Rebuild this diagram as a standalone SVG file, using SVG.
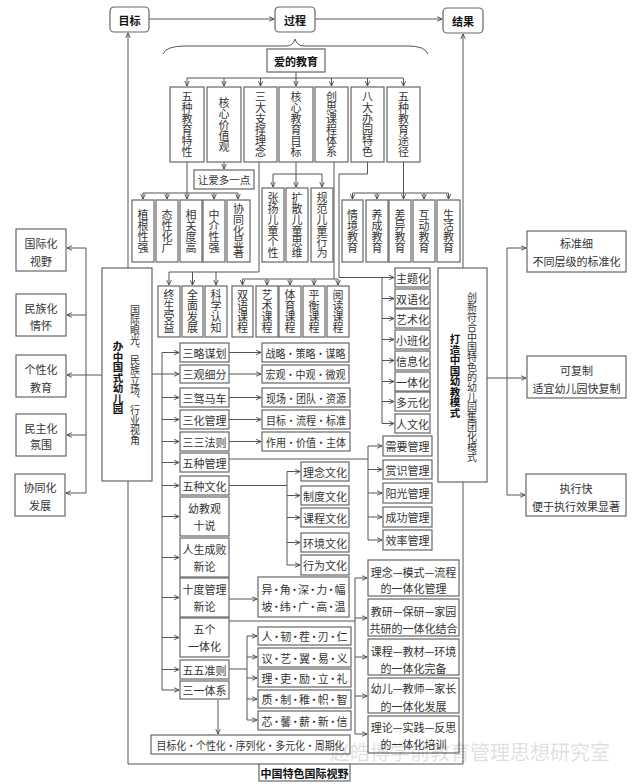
<svg xmlns="http://www.w3.org/2000/svg" width="640" height="784" viewBox="0 0 640 784">
<style>
text{font-family:"Noto Sans CJK SC","Noto Sans",sans-serif;fill:#333;font-size:11px;text-anchor:middle;dominant-baseline:central}
.b{font-weight:bold;fill:#111}
.v{writing-mode:vertical-rl}
.s{font-size:10px}
rect{fill:#fff;stroke:#666;stroke-width:1.2}
#connectors path{fill:none;stroke:#555;stroke-width:1}
.wm{font-size:20px;fill:#000;opacity:0.12;text-anchor:start}
</style>
<defs>
<marker id="a" viewBox="0 0 8 8" refX="7.5" refY="4" markerWidth="6" markerHeight="6" orient="auto" markerUnits="userSpaceOnUse"><path d="M1,1 L7.5,4 L1,7" fill="none" stroke="#444" stroke-width="1.2"/></marker>
</defs>
<rect x="0" y="0" width="640" height="784" style="fill:#fff;stroke:none"/>

<g id="connectors">
<path d="M149,19 H274" marker-end="url(#a)"/>
<path d="M315,19 H442" marker-end="url(#a)"/>
<path d="M128,268 V33" marker-end="url(#a)"/>
<path d="M463,268 V34" marker-end="url(#a)"/>
<path d="M163,54 Q166,46 185,46 H286 Q293,46 295,39 Q297,46 304,46 H408 Q425,46 428,54"/>
<path d="M296,72 V86" marker-end="url(#a)"/>
<path d="M187,78 H403"/>
<path d="M187,78 V86" marker-end="url(#a)"/>
<path d="M224,78 V86" marker-end="url(#a)"/>
<path d="M260.5,78 V86" marker-end="url(#a)"/>
<path d="M331.5,78 V86" marker-end="url(#a)"/>
<path d="M367.5,78 V86" marker-end="url(#a)"/>
<path d="M403.5,78 V86" marker-end="url(#a)"/>
<path d="M224,162 V169" marker-end="url(#a)"/>
<path d="M187,162 V199" marker-end="url(#a)"/>
<path d="M143,193 H238"/>
<path d="M143,193 V199" marker-end="url(#a)"/>
<path d="M167,193 V199" marker-end="url(#a)"/>
<path d="M214,193 V199" marker-end="url(#a)"/>
<path d="M238,193 V199" marker-end="url(#a)"/>
<path d="M296,162 V187" marker-end="url(#a)"/>
<path d="M273,174 H322"/>
<path d="M273,174 V187" marker-end="url(#a)"/>
<path d="M322,174 V187" marker-end="url(#a)"/>
<path d="M259,162 V272 H169"/>
<path d="M169,272 V285" marker-end="url(#a)"/>
<path d="M192.5,272 V285" marker-end="url(#a)"/>
<path d="M216,272 V285" marker-end="url(#a)"/>
<path d="M334,162 V279"/>
<path d="M242.5,279 H338"/>
<path d="M242.5,279 V285" marker-end="url(#a)"/>
<path d="M267,279 V285" marker-end="url(#a)"/>
<path d="M290,279 V285" marker-end="url(#a)"/>
<path d="M314,279 V285" marker-end="url(#a)"/>
<path d="M338,279 V285" marker-end="url(#a)"/>
<path d="M367.5,162 V174 H339 V277.5 H394" marker-end="url(#a)"/>
<path d="M382,277.5 V423.5"/>
<path d="M382,298.5 H394" marker-end="url(#a)"/>
<path d="M382,318.5 H394" marker-end="url(#a)"/>
<path d="M382,339.5 H394" marker-end="url(#a)"/>
<path d="M382,360.5 H394" marker-end="url(#a)"/>
<path d="M382,381.5 H394" marker-end="url(#a)"/>
<path d="M382,401.5 H394" marker-end="url(#a)"/>
<path d="M382,423.5 H394" marker-end="url(#a)"/>
<path d="M403.5,162 V199" marker-end="url(#a)"/>
<path d="M352.5,193 H448.5"/>
<path d="M352.5,193 V199" marker-end="url(#a)"/>
<path d="M377,193 V199" marker-end="url(#a)"/>
<path d="M424,193 V199" marker-end="url(#a)"/>
<path d="M448.5,193 V199" marker-end="url(#a)"/>
<path d="M487,378 H507"/>
<path d="M507,248 V495"/>
<path d="M507,248 H526" marker-end="url(#a)"/>
<path d="M507,378 H526" marker-end="url(#a)"/>
<path d="M507,495 H525" marker-end="url(#a)"/>
<path d="M102,375 H86"/>
<path d="M86,248 V493"/>
<path d="M86,248 H67" marker-end="url(#a)"/>
<path d="M86,315 H67" marker-end="url(#a)"/>
<path d="M86,375 H67" marker-end="url(#a)"/>
<path d="M86,435 H67" marker-end="url(#a)"/>
<path d="M86,493 H66" marker-end="url(#a)"/>
<path d="M152,374 H162"/>
<path d="M162,352.5 V690"/>
<path d="M162,352.5 H179" marker-end="url(#a)"/>
<path d="M162,374 H179" marker-end="url(#a)"/>
<path d="M162,397.5 H179" marker-end="url(#a)"/>
<path d="M162,419.5 H179" marker-end="url(#a)"/>
<path d="M162,441.5 H179" marker-end="url(#a)"/>
<path d="M162,462.5 H179" marker-end="url(#a)"/>
<path d="M162,485.5 H179" marker-end="url(#a)"/>
<path d="M162,516.5 H179" marker-end="url(#a)"/>
<path d="M162,557.5 H179" marker-end="url(#a)"/>
<path d="M162,597.5 H179" marker-end="url(#a)"/>
<path d="M162,637.5 H179" marker-end="url(#a)"/>
<path d="M162,669.5 H179" marker-end="url(#a)"/>
<path d="M162,690 H179" marker-end="url(#a)"/>
<path d="M229,352.5 H261" marker-end="url(#a)"/>
<path d="M229,374 H261" marker-end="url(#a)"/>
<path d="M229,397.5 H261" marker-end="url(#a)"/>
<path d="M229,419.5 H261" marker-end="url(#a)"/>
<path d="M229,441.5 H261" marker-end="url(#a)"/>
<path d="M229,459 H368"/>
<path d="M368,446 V540"/>
<path d="M368,446 H382" marker-end="url(#a)"/>
<path d="M368,469.5 H382" marker-end="url(#a)"/>
<path d="M368,493 H382" marker-end="url(#a)"/>
<path d="M368,517 H382" marker-end="url(#a)"/>
<path d="M368,540 H382" marker-end="url(#a)"/>
<path d="M229,485.5 H287"/>
<path d="M287,471.5 V565"/>
<path d="M287,471.5 H300" marker-end="url(#a)"/>
<path d="M287,495.5 H300" marker-end="url(#a)"/>
<path d="M287,517.5 H300" marker-end="url(#a)"/>
<path d="M287,542.5 H300" marker-end="url(#a)"/>
<path d="M287,565 H300" marker-end="url(#a)"/>
<path d="M229,599 H257" marker-end="url(#a)"/>
<path d="M229,621 H355"/>
<path d="M355,578 V734"/>
<path d="M355,578 H367" marker-end="url(#a)"/>
<path d="M355,618 H367" marker-end="url(#a)"/>
<path d="M355,657 H367" marker-end="url(#a)"/>
<path d="M355,696 H367" marker-end="url(#a)"/>
<path d="M355,734 H367" marker-end="url(#a)"/>
<path d="M229,669 H247"/>
<path d="M247,636 V720"/>
<path d="M247,636 H257" marker-end="url(#a)"/>
<path d="M247,657 H257" marker-end="url(#a)"/>
<path d="M247,678 H257" marker-end="url(#a)"/>
<path d="M247,699 H257" marker-end="url(#a)"/>
<path d="M247,720 H257" marker-end="url(#a)"/>
<path d="M218,700 V734" marker-end="url(#a)"/>
<path d="M128,481 V764 H259"/>
<path d="M463,482 V764 H350"/>
</g>

<g id="n-mubiao"><rect x="110" y="7" width="39" height="25" rx="4"/><text class="b" x="129.5" y="19.5">目标</text></g>
<g id="n-guocheng"><rect x="275" y="7" width="40" height="25" rx="4"/><text class="b" x="295" y="19.5">过程</text></g>
<g id="n-jieguo"><rect x="443" y="8" width="40" height="25" rx="4"/><text class="b" x="463" y="20.5">结果</text></g>
<g id="n-aide"><rect x="267" y="49" width="58" height="23"/><text class="b" x="296" y="60.5">爱的教育</text></g>

<g id="n-t1"><rect x="170" y="87" width="34" height="75"/><text class="v" x="187" y="124.5">五种教育特性</text></g>
<g id="n-t2"><rect x="207" y="87" width="34" height="75"/><text class="v" x="224" y="124.5">核心价值观</text></g>
<g id="n-t3"><rect x="244" y="87" width="33" height="75"/><text class="v" x="260.5" y="124.5">三大支撑理念</text></g>
<g id="n-t4"><rect x="279" y="87" width="34" height="75"/><text class="v" x="296" y="124.5">核心教育目标</text></g>
<g id="n-t5"><rect x="315" y="87" width="33" height="75"/><text class="v" x="331.5" y="124.5">创思课程体系</text></g>
<g id="n-t6"><rect x="351" y="87" width="33" height="75"/><text class="v" x="367.5" y="124.5">八大办园特色</text></g>
<g id="n-t7"><rect x="387" y="87" width="33" height="75"/><text class="v" x="403.5" y="124.5">五种教育途径</text></g>

<g id="n-rangai"><rect x="194" y="170" width="60" height="19"/><text x="224" y="179.5" style="font-size:10.5px">让爱多一点</text></g>

<g id="n-a1"><rect x="132" y="200" width="22" height="62"/><text class="v" x="143" y="231">植根性强</text></g>
<g id="n-a2"><rect x="156" y="200" width="22" height="62"/><text class="v" x="167" y="231">态性化广</text></g>
<g id="n-a3"><rect x="180" y="200" width="22" height="62"/><text class="v" x="191" y="231">相关度高</text></g>
<g id="n-a4"><rect x="203" y="200" width="22" height="62"/><text class="v" x="214" y="231">中介性强</text></g>
<g id="n-a5"><rect x="227" y="200" width="23" height="62"/><text class="v" x="238.5" y="231">协同化显著</text></g>

<g id="n-g1"><rect x="262" y="188" width="22" height="74"/><text class="v" x="273" y="225">张扬儿童个性</text></g>
<g id="n-g2"><rect x="286" y="188" width="22" height="74"/><text class="v" x="297" y="225">扩散儿童思维</text></g>
<g id="n-g3"><rect x="311" y="188" width="22" height="74"/><text class="v" x="322" y="225">规范儿童行为</text></g>

<g id="n-w1"><rect x="342" y="200" width="21" height="62"/><text class="v" x="352.5" y="231">情境教育</text></g>
<g id="n-w2"><rect x="366" y="200" width="22" height="62"/><text class="v" x="377" y="231">养成教育</text></g>
<g id="n-w3"><rect x="389" y="200" width="22" height="62"/><text class="v" x="400" y="231">差异教育</text></g>
<g id="n-w4"><rect x="413" y="200" width="22" height="62"/><text class="v" x="424" y="231">互动教育</text></g>
<g id="n-w5"><rect x="437" y="200" width="23" height="62"/><text class="v" x="448.5" y="231">生活教育</text></g>

<g id="n-c1"><rect x="158" y="286" width="22" height="51"/><text class="v" x="169" y="311.5">终生受益</text></g>
<g id="n-c2"><rect x="182" y="286" width="21" height="51"/><text class="v" x="192.5" y="311.5">全面发展</text></g>
<g id="n-c3"><rect x="205" y="286" width="22" height="51"/><text class="v" x="216" y="311.5">科学认知</text></g>
<g id="n-c4"><rect x="232" y="286" width="21" height="51"/><text class="v" x="242.5" y="311.5">双语课程</text></g>
<g id="n-c5"><rect x="256" y="286" width="22" height="51"/><text class="v" x="267" y="311.5">艺术课程</text></g>
<g id="n-c6"><rect x="279" y="286" width="22" height="51"/><text class="v" x="290" y="311.5">体育课程</text></g>
<g id="n-c7"><rect x="303" y="286" width="22" height="51"/><text class="v" x="314" y="311.5">平衡课程</text></g>
<g id="n-c8"><rect x="327" y="286" width="22" height="51"/><text class="v" x="338" y="311.5">阅读课程</text></g>

<g id="n-h1"><rect x="395" y="268" width="35" height="19"/><text x="412.5" y="277.5">主题化</text></g>
<g id="n-h2"><rect x="395" y="289" width="35" height="19"/><text x="412.5" y="298.5">双语化</text></g>
<g id="n-h3"><rect x="395" y="309" width="35" height="19"/><text x="412.5" y="318.5">艺术化</text></g>
<g id="n-h4"><rect x="395" y="330" width="35" height="19"/><text x="412.5" y="339.5">小班化</text></g>
<g id="n-h5"><rect x="395" y="351" width="35" height="19"/><text x="412.5" y="360.5">信息化</text></g>
<g id="n-h6"><rect x="395" y="372" width="35" height="19"/><text x="412.5" y="381.5">一体化</text></g>
<g id="n-h7"><rect x="395" y="392" width="35" height="19"/><text x="412.5" y="401.5">多元化</text></g>
<g id="n-h8"><rect x="395" y="414" width="35" height="19"/><text x="412.5" y="423.5">人文化</text></g>

<g id="n-left"><rect x="102" y="268" width="50" height="213"/><text class="v b" x="118" y="378" style="font-size:10.5px">办中国式幼儿园</text><text class="v s" x="135" y="375">国际眼光、民族立场、行业视角</text></g>
<g id="n-right"><rect x="438" y="268" width="49" height="214"/><text class="v b" x="455" y="376" style="font-size:10.5px">打造中国幼教模式</text><text class="v s" x="472" y="377">创新符合中国特色的幼儿园集团化模式</text></g>

<g id="n-r1"><rect x="527" y="231" width="99" height="41"/><text x="576.5" y="243">标准细</text><text x="576.5" y="261">不同层级的标准化</text></g>
<g id="n-r2"><rect x="527" y="356" width="99" height="42"/><text x="576.5" y="370">可复制</text><text x="576.5" y="388">适宜幼儿园快复制</text></g>
<g id="n-r3"><rect x="526" y="474" width="100" height="42"/><text x="576" y="488">执行快</text><text x="576" y="506">便于执行效果显著</text></g>

<g id="n-l1"><rect x="16" y="229" width="50" height="42"/><text x="41" y="243">国际化</text><text x="41" y="261">视野</text></g>
<g id="n-l2"><rect x="16" y="294" width="50" height="42"/><text x="41" y="308">民族化</text><text x="41" y="325">情怀</text></g>
<g id="n-l3"><rect x="16" y="355" width="50" height="42"/><text x="41" y="369">个性化</text><text x="41" y="387">教育</text></g>
<g id="n-l4"><rect x="16" y="414" width="50" height="42"/><text x="41" y="428">民主化</text><text x="41" y="444">氛围</text></g>
<g id="n-l5"><rect x="15" y="474" width="50" height="42"/><text x="40" y="487">协同化</text><text x="40" y="505">发展</text></g>

<g id="n-m1"><rect x="180" y="343" width="49" height="19"/><text x="204.5" y="352.5">三略谋划</text></g>
<g id="n-m2"><rect x="180" y="365" width="49" height="18"/><text x="204.5" y="374">三观细分</text></g>
<g id="n-m3"><rect x="180" y="388" width="49" height="19"/><text x="204.5" y="397.5">三驾马车</text></g>
<g id="n-m4"><rect x="180" y="410" width="49" height="19"/><text x="204.5" y="419.5">三化管理</text></g>
<g id="n-m5"><rect x="180" y="432" width="49" height="19"/><text x="204.5" y="441.5">三三法则</text></g>
<g id="n-m6"><rect x="180" y="453" width="49" height="19"/><text x="204.5" y="462.5">五种管理</text></g>
<g id="n-m7"><rect x="180" y="476" width="49" height="19"/><text x="204.5" y="485.5">五种文化</text></g>
<g id="n-m8"><rect x="180" y="497" width="49" height="39"/><text x="204.5" y="508">幼教观</text><text x="204.5" y="525">十说</text></g>
<g id="n-m9"><rect x="180" y="538" width="49" height="39"/><text x="204.5" y="549">人生成败</text><text x="204.5" y="566">新论</text></g>
<g id="n-m10"><rect x="180" y="578" width="49" height="39"/><text x="204.5" y="589">十度管理</text><text x="204.5" y="606">新论</text></g>
<g id="n-m11"><rect x="180" y="618" width="49" height="39"/><text x="204.5" y="629">五个</text><text x="204.5" y="646">一体化</text></g>
<g id="n-m12"><rect x="180" y="660" width="49" height="19"/><text x="204.5" y="669.5">五五准则</text></g>
<g id="n-m13"><rect x="180" y="681" width="49" height="18"/><text x="204.5" y="690">三一体系</text></g>

<g id="n-s1"><rect x="262" y="343" width="87" height="19"/><text x="305.5" y="352.5" textLength="80" lengthAdjust="spacingAndGlyphs">战略·策略·谋略</text></g>
<g id="n-s2"><rect x="262" y="365" width="87" height="18"/><text x="305.5" y="374" textLength="80" lengthAdjust="spacingAndGlyphs">宏观·中观·微观</text></g>
<g id="n-s3"><rect x="262" y="388" width="88" height="19"/><text x="306" y="397.5" textLength="80" lengthAdjust="spacingAndGlyphs">现场·团队·资源</text></g>
<g id="n-s4"><rect x="262" y="410" width="88" height="19"/><text x="306" y="419.5" textLength="80" lengthAdjust="spacingAndGlyphs">目标·流程·标准</text></g>
<g id="n-s5"><rect x="262" y="432" width="88" height="19"/><text x="306" y="441.5" textLength="80" lengthAdjust="spacingAndGlyphs">作用·价值·主体</text></g>

<g id="n-g5-1"><rect x="383" y="436" width="49" height="20"/><text x="407.5" y="446">需要管理</text></g>
<g id="n-g5-2"><rect x="383" y="460" width="49" height="19"/><text x="407.5" y="469.5">赏识管理</text></g>
<g id="n-g5-3"><rect x="383" y="483" width="49" height="20"/><text x="407.5" y="493">阳光管理</text></g>
<g id="n-g5-4"><rect x="383" y="507" width="49" height="20"/><text x="407.5" y="517">成功管理</text></g>
<g id="n-g5-5"><rect x="383" y="530" width="49" height="20"/><text x="407.5" y="540">效率管理</text></g>

<g id="n-wh1"><rect x="301" y="462" width="48" height="19"/><text x="325" y="471.5">理念文化</text></g>
<g id="n-wh2"><rect x="301" y="486" width="48" height="19"/><text x="325" y="495.5">制度文化</text></g>
<g id="n-wh3"><rect x="301" y="508" width="48" height="19"/><text x="325" y="517.5">课程文化</text></g>
<g id="n-wh4"><rect x="301" y="533" width="48" height="19"/><text x="325" y="542.5">环境文化</text></g>
<g id="n-wh5"><rect x="301" y="555" width="48" height="20"/><text x="325" y="565">行为文化</text></g>

<g id="n-shidu"><rect x="258" y="577" width="91" height="40"/><text x="303.5" y="589" textLength="84" lengthAdjust="spacing">异·角·深·力·幅</text><text x="303.5" y="606" textLength="84" lengthAdjust="spacing">坡·纬·广·高·温</text></g>

<g id="n-y1"><rect x="368" y="560" width="91" height="36"/><text x="413.5" y="572">理念—模式—流程</text><text x="413.5" y="588">的一体化管理</text></g>
<g id="n-y2"><rect x="368" y="599" width="91" height="37"/><text x="413.5" y="611">教研—保研—家园</text><text x="413.5" y="628">共研的一体化结合</text></g>
<g id="n-y3"><rect x="368" y="639" width="91" height="36"/><text x="413.5" y="651">课程—教材—环境</text><text x="413.5" y="668">的一体化完备</text></g>
<g id="n-y4"><rect x="368" y="678" width="91" height="35"/><text x="413.5" y="688">幼儿—教师—家长</text><text x="413.5" y="706">的一体化发展</text></g>
<g id="n-y5"><rect x="368" y="716" width="91" height="37"/><text x="413.5" y="727">理论—实践—反思</text><text x="413.5" y="744">的一体化培训</text></g>

<g id="n-z1"><rect x="258" y="627" width="93" height="18"/><text x="304.5" y="636" textLength="86" lengthAdjust="spacing">人·韧·茬·刃·仁</text></g>
<g id="n-z2"><rect x="258" y="648" width="93" height="19"/><text x="304.5" y="657.5" textLength="86" lengthAdjust="spacing">议·艺·翼·易·义</text></g>
<g id="n-z3"><rect x="258" y="669" width="93" height="18"/><text x="304.5" y="678" textLength="86" lengthAdjust="spacing">理·吏·励·立·礼</text></g>
<g id="n-z4"><rect x="258" y="690" width="93" height="18"/><text x="304.5" y="699" textLength="86" lengthAdjust="spacing">质·制·稚·帜·智</text></g>
<g id="n-z5"><rect x="258" y="711" width="93" height="19"/><text x="304.5" y="720.5" textLength="86" lengthAdjust="spacing">芯·馨·薪·新·信</text></g>

<g id="n-mubiaohua"><rect x="151" y="735" width="199" height="19"/><text x="250.5" y="744.5" textLength="188" lengthAdjust="spacingAndGlyphs">目标化·个性化·序列化·多元化·周期化</text></g>

<g id="n-bottom"><rect x="259" y="764" width="91" height="17"/><text class="b" x="304.5" y="772.5">中国特色国际视野</text></g>

<text class="wm" x="330" y="751">赵皓博学前教育管理思想研究室</text>
</svg>
